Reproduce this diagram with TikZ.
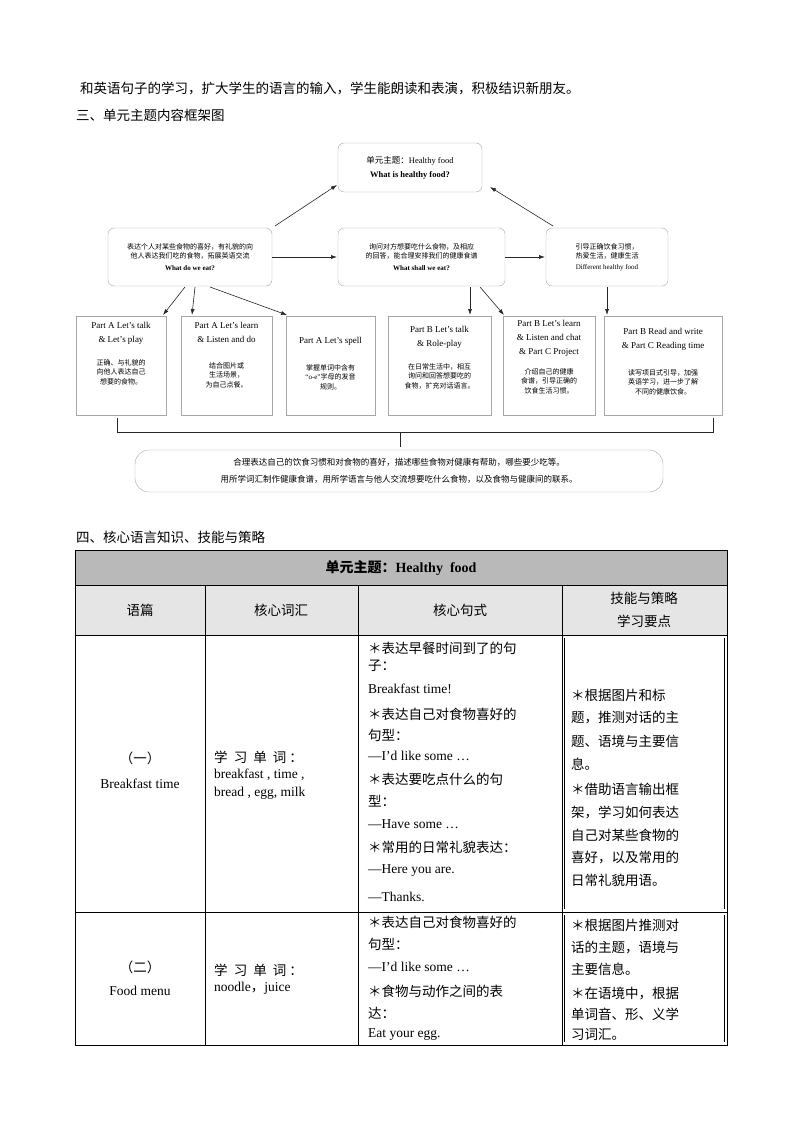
\documentclass[tikz,border=0pt]{standalone}
\usepackage{fontspec}
\setmainfont{Liberation Serif}
\newfontfamily\cjk{Noto Sans CJK SC}
\usetikzlibrary{arrows.meta}
\begin{document}
\begin{tikzpicture}[x=1pt,y=-1pt,
 rbox/.style={draw=gray!70,rounded corners=6pt,fill=white},
 sbox/.style={draw=gray!70,fill=white},
 arr/.style={-{Latex[length=6pt,width=4pt]},gray!30!black,line width=0.6pt},
 tx/.style={inner sep=0pt,anchor=west},
 ct/.style={inner sep=0pt,align=center},
 sm/.style={font=\fontsize{7}{9.5}\selectfont},
 lb/.style={font=\fontsize{9}{14}\selectfont},
 body/.style={font=\fontsize{13.5}{15}\selectfont}]
\useasboundingbox (0,0) rectangle (800,1132);
\node[tx,body] (l1) at (80,88) {\cjk 和英语句子的学习，扩大学生的语言的输入，学生能朗读和表演，积极结识新朋友。};
\node[tx,body] (h3) at (76,115) {\cjk 三、单元主题内容框架图};
\node[tx,body] (h4) at (76,537) {\cjk 四、核心语言知识、技能与策略};
% diagram
\draw[rbox] (338,143) rectangle (482,192);
\node[ct,font=\fontsize{8.5}{10}\selectfont] (top) at (410,167.5) {{\cjk 单元主题：}Healthy food\\[4pt]\textbf{What is healthy food?}};
\draw[rbox] (108,228) rectangle (272,286);
\node[ct,sm] (left) at (190,257) {\cjk 表达个人对某些食物的喜好，有礼貌的向\\ \cjk 他人表达我们吃的食物，拓展英语交流\\[2pt]\textbf{What do we eat?}};
\draw[rbox] (338,228) rectangle (505,286);
\node[ct,sm] (mid) at (421.5,257) {\cjk 询问对方想要吃什么食物，及相应\\ \cjk 的回答，能合理安排我们的健康食谱\\[2pt]\textbf{What shall we eat?}};
\draw[rbox] (546,228) rectangle (668,286);
\node[ct,sm] (right) at (607,257) {\cjk 引导正确饮食习惯，\\ \cjk 热爱生活，健康生活\\[1pt]Different healthy food};
\coordinate (lt) at (275,226); \coordinate (tl) at (337,185);
\coordinate (rt) at (553,226); \coordinate (tr) at (490,187);
\draw[arr] (lt) -- (tl); \draw[arr] (rt) -- (tr);
\coordinate (lr) at (272,257); \coordinate (ml) at (337,257);
\coordinate (mr) at (505,257); \coordinate (rl) at (545,257);
\draw[arr] (lr) -- (ml); \draw[arr] (mr) -- (rl);
% bottom boxes
\foreach \a/\b in {76/166,181/272,286/375,388/491,503/595,604/722}
  {\draw[sbox] (\a,316) rectangle (\b,415);}
\node[ct,lb,anchor=north] (b1) at (121,322) {Part A Let's talk\\\& Let's play};
\node[ct,sm,anchor=north] at (121,359) {\cjk 正确、与礼貌的\\ \cjk 向他人表达自己\\ \cjk 想要的食物。};
\node[ct,lb,anchor=north] (b2) at (226.5,322) {Part A Let's learn\\\& Listen and do};
\node[ct,sm,anchor=north] at (226.5,362) {\cjk 结合图片或\\ \cjk 生活场景，\\ \cjk 为自己点餐。};
\node[ct,lb,anchor=north] (b3) at (330.5,337) {Part A Let's spell};
\node[ct,sm,anchor=north] at (330.5,364) {\cjk 掌握单词中含有\\ “o-e”{\cjk 字母的发音}\\ \cjk 规则。};
\node[ct,lb,anchor=north] (b4) at (439.5,326) {Part B Let's talk\\\& Role-play};
\node[ct,sm,anchor=north] at (439.5,363) {\cjk 在日常生活中，相互\\ \cjk 询问和回答想要吃的\\ \cjk 食物，扩充对话语言。};
\node[ct,lb,anchor=north] (b5) at (549,320) {Part B Let's learn\\\& Listen and chat\\\& Part C Project};
\node[ct,sm,anchor=north] at (549,368) {\cjk 介绍自己的健康\\ \cjk 食谱，引导正确的\\ \cjk 饮食生活习惯。};
\node[ct,lb,anchor=north] (b6) at (663,328) {Part B Read and write\\\& Part C Reading time};
\node[ct,sm,anchor=north] at (663,369) {\cjk 读写项目式引导，加强\\ \cjk 英语学习，进一步了解\\ \cjk 不同的健康饮食。};
\coordinate (s1) at (185,287); \coordinate (s2) at (195,287); \coordinate (s3) at (210,287);
\draw[arr] (s1) -- (163,315); \draw[arr] (s2) -- (192,315); \draw[arr] (s3) -- (287,315);
\coordinate (m1) at (470,287); \coordinate (m2) at (480,287);
\draw[arr] (m1) -- (470,315); \draw[arr] (m2) -- (504,315);
\coordinate (r1) at (607,287); \draw[arr] (r1) -- (607,315);
\draw[gray!30!black,line width=0.6pt] (117,418) -- (117,432) -- (713,432) -- (713,418);
\draw[gray!30!black,line width=0.6pt] (400,432) -- (400,447);
\draw[draw=gray!70,rounded corners=14pt] (135,450) rectangle (663,492);
\node[ct,font=\fontsize{8.5}{17}\selectfont] (sum) at (399,471) {\cjk 合理表达自己的饮食习惯和对食物的喜好，描述哪些食物对健康有帮助，哪些要少吃等。\\ \cjk 用所学词汇制作健康食谱，用所学语言与他人交流想要吃什么食物，以及食物与健康间的联系。};
% table
\fill[gray!55] (75,550) rectangle (727,585);
\fill[gray!20] (75,585) rectangle (727,635);
\draw[line width=0.8pt] (75,550) rectangle (727,1045);
\draw (75,585) -- (727,585); \draw (75,635) -- (727,635);
\draw (75,912) -- (727,912);
\foreach \x in {205,358,562} \draw (\x,585) -- (\x,1045);
\draw (564,638) -- (564,909) (724,638) -- (724,909);
\draw (564,915) -- (564,1042) (724,915) -- (724,1042);
\node[ct,font=\fontsize{14}{16}\selectfont\bfseries] (th) at (401,568) {{\cjk 单元主题：}Healthy\ \ food};
\node[ct,body] at (140,610) {\cjk 语篇};
\node[ct,body] at (281,610) {\cjk 核心词汇};
\node[ct,body] at (460,610) {\cjk 核心句式};
\node[ct,font=\fontsize{13.5}{23}\selectfont] at (644,610) {\cjk 技能与策略\\ \cjk 学习要点};
\node[ct,body] at (140,758) {\cjk （一）};
\node[ct,body] at (140,784) {Breakfast time};
\node[tx,body] at (214,757) {\cjk 学\ \ 习\ \ 单\ \ 词\ ：};
\node[tx,body] at (214,775) {breakfast , time ,};
\node[tx,body] at (214,793) {bread , egg, milk};
\foreach \y/\t in {648/{\cjk ＊表达早餐时间到了的句},666/{\cjk 子：},689/{Breakfast time!},714/{\cjk ＊表达自己对食物喜好的},735/{\cjk 句型：},756/{—I'd like some …},779/{\cjk ＊表达要吃点什么的句},801/{\cjk 型：},824/{—Have some …},847/{\cjk ＊常用的日常礼貌表达：},871/{—Here you are.},897/{—Thanks.}}
  \node[tx,body] at (368,\y) {\t};
\foreach \y/\t in {695/＊根据图片和标,718/题，推测对话的主,741/题、语境与主要信,764/息。,789/＊借助语言输出框,812/架，学习如何表达,835/自己对某些食物的,858/喜好，以及常用的,880/日常礼貌用语。}
  \node[tx,body] at (571,\y) {\cjk \t};
\node[ct,body] at (140,967) {\cjk （二）};
\node[ct,body] at (140,991) {Food menu};
\node[tx,body] at (214,970) {\cjk 学\ \ 习\ \ 单\ \ 词\ ：};
\node[tx,body] at (214,988) {noodle{\cjk ，}juice};
\foreach \y/\t in {922/{\cjk ＊表达自己对食物喜好的},944/{\cjk 句型：},967/{—I'd like some …},991/{\cjk ＊食物与动作之间的表},1013/{\cjk 达：},1035/{Eat your egg.}}
  \node[tx,body] at (368,\y) {\t};
\foreach \y/\t in {925/＊根据图片推测对,947/话的主题，语境与,969/主要信息。,993/＊在语境中，根据,1014/单词音、形、义学,1035/习词汇。}
  \node[tx,body] at (571,\y) {\cjk \t};
\end{tikzpicture}
\end{document}
